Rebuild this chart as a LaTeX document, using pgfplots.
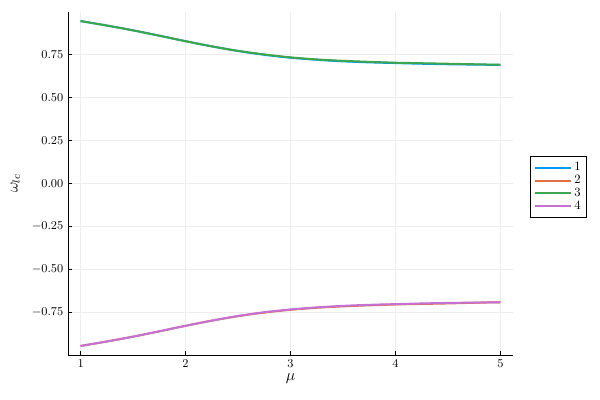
\documentclass[border=0pt]{standalone}
\usepackage{pgfplots}
\pgfplotsset{compat=1.18}
\definecolor{jl1}{RGB}{0,154,250}
\definecolor{jl2}{RGB}{227,111,71}
\definecolor{jl3}{RGB}{62,164,78}
\definecolor{jl4}{RGB}{195,113,210}

% upper branch (modes 1 and 3), lower branch (modes 2 and 4)
\pgfplotstableread{
mu   w1     w2      w3     w4
1.00 0.944  -0.944  0.944  -0.944
1.25 0.918  -0.918  0.918  -0.918
1.50 0.890  -0.890  0.890  -0.890
1.75 0.859  -0.859  0.859  -0.859
2.00 0.827  -0.827  0.827  -0.827
2.25 0.797  -0.797  0.797  -0.797
2.50 0.770  -0.771  0.771  -0.770
2.75 0.748  -0.750  0.750  -0.748
3.00 0.731  -0.734  0.733  -0.732
3.25 0.719  -0.722  0.721  -0.720
3.50 0.710  -0.714  0.713  -0.711
3.75 0.704  -0.708  0.707  -0.705
4.00 0.700  -0.703  0.702  -0.701
4.25 0.696  -0.700  0.699  -0.697
4.50 0.693  -0.697  0.696  -0.694
4.75 0.691  -0.693  0.693  -0.692
5.00 0.689  -0.690  0.690  -0.690
}\modes

\begin{document}
\begin{tikzpicture}
\useasboundingbox (-51pt,-33.75pt) rectangle (399pt,266.25pt);
\begin{axis}[
  scale only axis,
  width=333.75pt, height=257.25pt,
  xmin=0.88, xmax=5.12,
  ymin=-0.9966, ymax=0.9966,
  axis x line*=bottom, axis y line*=left,
  axis line style={black, line width=0.6pt},
  tick align=inside,
  major tick length=3pt,
  tick style={black, line width=0.5pt},
  xtick={1,2,3,4,5},
  ytick={-0.75,-0.5,-0.25,0,0.25,0.5,0.75},
  yticklabel style={/pgf/number format/.cd, fixed, fixed zerofill, precision=2},
  ticklabel style={font=\fontsize{9.5}{11}\selectfont},
  grid=major,
  major grid style={black!7, line width=0.5pt},
  xlabel={$\mu$}, ylabel={$\omega_{lc}$},
  label style={font=\fontsize{12}{14}\selectfont},
  xlabel style={yshift=2pt},
  ylabel style={yshift=2pt},
  legend style={at={(1.038,0.58)}, anchor=north west, draw=black, line width=0.6pt,
    font=\fontsize{9.5}{9.75}\selectfont, row sep=-1.2pt, inner xsep=3pt, inner ysep=3pt,
    nodes={inner sep=1.5pt}},
  legend cell align=left,
  legend image code/.code={\draw[#1, line width=1.5pt] (0pt,0pt) -- (27pt,0pt);},
  every axis plot/.append style={line width=1.5pt, smooth},
]
\addplot[jl1] table[x=mu, y=w1] {\modes};
\addplot[jl2] table[x=mu, y=w2] {\modes};
\addplot[jl3] table[x=mu, y=w3] {\modes};
\addplot[jl4] table[x=mu, y=w4] {\modes};
\legend{1,2,3,4}
\end{axis}
\end{tikzpicture}
\end{document}
